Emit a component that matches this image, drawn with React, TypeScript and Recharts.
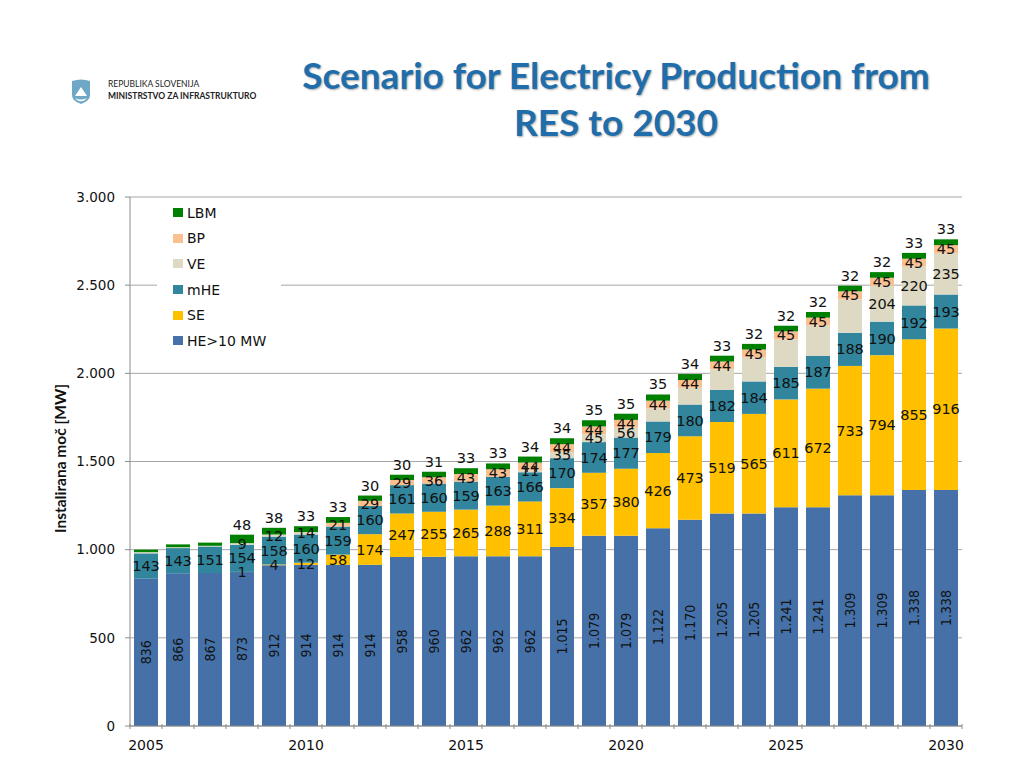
import {
  BarChart,
  Bar,
  XAxis,
  YAxis,
  CartesianGrid,
  Legend,
  LabelList,
} from 'recharts';

const years = [
  2005, 2006, 2007, 2008, 2009, 2010, 2011, 2012, 2013, 2014, 2015, 2016, 2017,
  2018, 2019, 2020, 2021, 2022, 2023, 2024, 2025, 2026, 2027, 2028, 2029, 2030,
];
const labelledYears = [2005, 2010, 2015, 2020, 2025, 2030];

const he = [
  836, 866, 867, 873, 912, 914, 914, 914, 958, 960, 962, 962, 962,
  1015, 1079, 1079, 1122, 1170, 1205, 1205, 1241, 1241, 1309, 1309, 1338, 1338,
];
const se = [
  0, 0, 0, 1, 4, 12, 58, 174, 247, 255, 265, 288, 311,
  334, 357, 380, 426, 473, 519, 565, 611, 672, 733, 794, 855, 916,
];
const mhe = [
  143, 143, 151, 154, 158, 160, 159, 160, 161, 160, 159, 163, 166,
  170, 174, 177, 179, 180, 182, 184, 185, 187, 188, 190, 192, 193,
];
const ve = [
  7, 5, 4, 9, 12, 14, 0, 0, 0, 0, 0, 0, 11,
  35, 45, 56, 74, 95, 117, 136, 156, 171, 190, 204, 220, 235,
];
const bp = [
  0, 0, 0, 0, 0, 0, 21, 29, 29, 36, 43, 43, 44,
  44, 44, 44, 44, 44, 44, 45, 45, 45, 45, 45, 45, 45,
];
const lbm = [
  14, 16, 18, 48, 38, 33, 33, 30, 30, 31, 33, 33, 34,
  34, 35, 35, 35, 34, 33, 32, 32, 32, 32, 32, 33, 33,
];

// the picture prints no label on these
const veLabels = [
  null, null, null, 9, 12, 14, null, null, null, null, null, null, 11,
  35, 45, 56, null, null, null, null, null, null, null, 204, 220, 235,
];
const seLabels = se.map((v) => (v > 0 ? v : null));
const bpLabels = bp.map((v) => (v > 0 ? v : null));
const lbmLabels = lbm.map((v, i) => (i > 2 ? v : null));

const yTicks = [0, 500, 1000, 1500, 2000, 2500, 3000];
const legendOrder = ['LBM', 'BP', 'VE', 'mHE', 'SE', 'HE>10 MW'];

const data = years.map((year, i) => ({
  year,
  he: he[i],
  se: se[i],
  mhe: mhe[i],
  ve: ve[i],
  bp: bp[i],
  lbm: lbm[i],
  seLabel: seLabels[i],
  veLabel: veLabels[i],
  bpLabel: bpLabels[i],
  lbmLabel: lbmLabels[i],
}));

const thousands = (v: number) => String(v).replace(/\B(?=(\d{3})+$)/g, '.');

const chartFont = '"DejaVu Sans", sans-serif';
const axisColor = '#8c8c8c';
const labelStyle = { fontFamily: chartFont, fontSize: 14.5, fill: '#111' };
const BAND = 32;

const YearTick = (props: any) => {
  const { x, y, payload, index } = props;
  const left = x - BAND / 2;
  return (
    <g>
      <line x1={left} x2={left} y1={y - 8} y2={y - 3} stroke={axisColor} />
      {index === years.length - 1 && (
        <line x1={left + BAND} x2={left + BAND} y1={y - 8} y2={y - 3} stroke={axisColor} />
      )}
      {labelledYears.includes(payload.value) && (
        <text x={x} y={y + 18} textAnchor="middle" fontFamily={chartFont} fontSize={14} fill="#111">
          {payload.value}
        </text>
      )}
    </g>
  );
};

const LegendBox = ({ payload }: any) => (
  <div style={{ background: '#fff', width: 124, height: 156, paddingTop: 2, boxSizing: 'border-box' }}>
    {legendOrder.map((name) => {
      const item = (payload || []).find((p: any) => p.value === name);
      return (
        <div
          key={name}
          style={{
            height: 25.6,
            display: 'flex',
            alignItems: 'center',
            fontFamily: chartFont,
            fontSize: 14,
            color: '#111',
            paddingLeft: 16,
          }}
        >
          <span style={{ width: 10, height: 9, background: item?.color, marginRight: 4 }} />
          {name}
        </div>
      );
    })}
  </div>
);

const App = () => (
  <div style={{ position: 'absolute', left: 0, top: 0, width: 1024, height: 768, background: '#fff', overflow: 'hidden' }}>
    <BarChart
      width={1024}
      height={768}
      data={data}
      barCategoryGap="12.5%"
      margin={{ top: 197, right: 62, bottom: 0, left: 0 }}
    >
      <CartesianGrid horizontal vertical={false} stroke="#a6a6a6" />
      <XAxis
        dataKey="year"
        height={42}
        interval={0}
        tick={<YearTick />}
        tickLine={false}
        tickMargin={0}
        stroke={axisColor}
      />
      <YAxis
        width={130}
        domain={[0, 3000]}
        ticks={yTicks}
        tickFormatter={thousands}
        tickSize={5}
        tickMargin={10}
        stroke={axisColor}
        tick={{ fontFamily: chartFont, fontSize: 13.5, fill: '#111' }}
        label={{
          value: 'Instalirana moč [MW]',
          angle: -90,
          position: 'insideLeft',
          offset: 60,
          dy: -3,
          style: { fontFamily: 'Lato, sans-serif', fontSize: 15.5, fontWeight: 700, fill: '#111', textAnchor: 'middle' },
        }}
      />
      <Legend
        layout="vertical"
        align="center"
        verticalAlign="middle"
        content={<LegendBox />}
        wrapperStyle={{ position: 'absolute', left: 157, top: 198, width: 124, height: 156 }}
      />
      <Bar dataKey="he" name="HE>10 MW" stackId="a" fill="#4571a8" isAnimationActive={false}>
        <LabelList
          dataKey="he"
          position="center"
          angle={-90}
          formatter={thousands}
          style={{ fontFamily: '"DejaVu Sans Condensed", "Liberation Sans Narrow", sans-serif', fontSize: 14, fill: '#111', fontStretch: 'condensed' }}
        />
      </Bar>
      <Bar dataKey="se" name="SE" stackId="a" fill="#ffc000" isAnimationActive={false}>
        <LabelList dataKey="seLabel" position="center" style={labelStyle} />
      </Bar>
      <Bar dataKey="mhe" name="mHE" stackId="a" fill="#31859c" isAnimationActive={false}>
        <LabelList dataKey="mhe" position="center" style={labelStyle} />
      </Bar>
      <Bar dataKey="ve" name="VE" stackId="a" fill="#ddd9c3" isAnimationActive={false}>
        <LabelList dataKey="veLabel" position="center" style={labelStyle} />
      </Bar>
      <Bar dataKey="bp" name="BP" stackId="a" fill="#fac090" isAnimationActive={false}>
        <LabelList dataKey="bpLabel" position="center" style={labelStyle} />
      </Bar>
      <Bar dataKey="lbm" name="LBM" stackId="a" fill="#008000" isAnimationActive={false}>
        <LabelList dataKey="lbmLabel" position="top" style={labelStyle} />
      </Bar>
    </BarChart>

    <div
      style={{
        position: 'absolute',
        left: 216,
        top: 51,
        width: 800,
        textAlign: 'center',
        fontFamily: 'Lato, sans-serif',
        fontWeight: 700,
        fontSize: 37,
        lineHeight: '47px',
        color: '#1f6eab',
        textShadow: '1px 1px 2px rgba(0,0,0,0.35)',
      }}
    >
      Scenario for Electricy Production from
      <br />
      RES to 2030
    </div>

    <svg style={{ position: 'absolute', left: 71, top: 79 }} width={20} height={26} viewBox="0 0 20 26">
      <path d="M1 2 Q10 -1 19 2 L19 16 Q19 22 10 25 Q1 22 1 16 Z" fill="#6fa8c6" />
      <path d="M4 17 L8 11 L10 8 L12 11 L16 17 Z" fill="#fff" />
      <path d="M4 19 Q10 22 16 19 L14 21 Q10 23.5 6 21 Z" fill="#fff" />
    </svg>
    <div style={{ position: 'absolute', left: 108, top: 79, fontFamily: 'Lato, sans-serif', fontSize: 8.5, lineHeight: '11.5px', color: '#222', whiteSpace: 'nowrap' }}>
      REPUBLIKA SLOVENIJA
      <br />
      <b>MINISTRSTVO ZA INFRASTRUKTURO</b>
    </div>
  </div>
);

export default App;
